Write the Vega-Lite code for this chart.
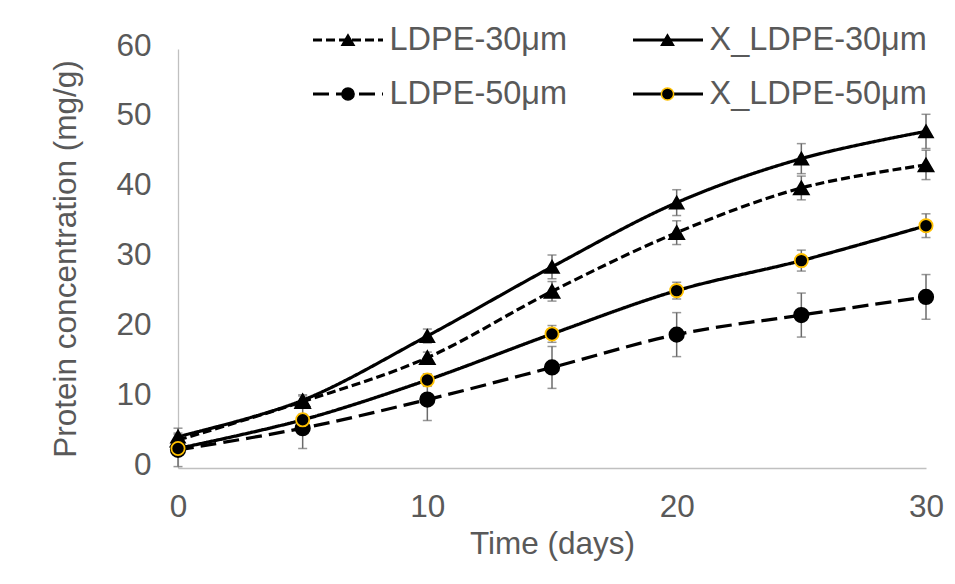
{
  "$schema": "https://vega.github.io/schema/vega-lite/v6.json",
  "width": 748,
  "height": 419,
  "autosize": {"type": "none"},
  "padding": {"left": 178, "top": 49, "right": 29, "bottom": 116},
  "background": "white",
  "config": {
    "view": {"stroke": null},
    "font": "Liberation Sans",
    "axis": {
      "labelFont": "Liberation Sans",
      "labelFontSize": 31.5,
      "labelColor": "#595959",
      "titleFont": "Liberation Sans",
      "titleFontSize": 31.5,
      "titleColor": "#595959",
      "titleFontWeight": "normal",
      "domainColor": "#c0c0c0",
      "domainWidth": 1.3,
      "ticks": false,
      "tickSize": 0,
      "grid": false
    }
  },
  "data": {
    "values": [
      {"day": 0, "series": "LDPE-30μm", "marker": "LDPE-30μm", "value": 4.0, "lo": 3.2, "hi": 4.8},
      {"day": 5, "series": "LDPE-30μm", "marker": "LDPE-30μm", "value": 9.5, "lo": 8.7, "hi": 10.3},
      {"day": 10, "series": "LDPE-30μm", "marker": "LDPE-30μm", "value": 15.8, "lo": 15.0, "hi": 16.6},
      {"day": 15, "series": "LDPE-30μm", "marker": "LDPE-30μm", "value": 25.3, "lo": 23.9, "hi": 26.7},
      {"day": 20, "series": "LDPE-30μm", "marker": "LDPE-30μm", "value": 33.7, "lo": 32.0, "hi": 35.4},
      {"day": 25, "series": "LDPE-30μm", "marker": "LDPE-30μm", "value": 40.1, "lo": 38.4, "hi": 41.8},
      {"day": 30, "series": "LDPE-30μm", "marker": "LDPE-30μm", "value": 43.4, "lo": 41.3, "hi": 45.5},
      {"day": 0, "series": "X_LDPE-30μm", "marker": "X_LDPE-30μm", "value": 4.5, "lo": 3.3, "hi": 5.7},
      {"day": 5, "series": "X_LDPE-30μm", "marker": "X_LDPE-30μm", "value": 9.7, "lo": 8.9, "hi": 10.5},
      {"day": 10, "series": "X_LDPE-30μm", "marker": "X_LDPE-30μm", "value": 18.9, "lo": 17.9, "hi": 19.9},
      {"day": 15, "series": "X_LDPE-30μm", "marker": "X_LDPE-30μm", "value": 28.8, "lo": 27.1, "hi": 30.5},
      {"day": 20, "series": "X_LDPE-30μm", "marker": "X_LDPE-30μm", "value": 38.0, "lo": 36.15, "hi": 39.85},
      {"day": 25, "series": "X_LDPE-30μm", "marker": "X_LDPE-30μm", "value": 44.3, "lo": 42.15, "hi": 46.45},
      {"day": 30, "series": "X_LDPE-30μm", "marker": "X_LDPE-30μm", "value": 48.2, "lo": 45.75, "hi": 50.65},
      {"day": 0, "series": "LDPE-50μm", "marker": "LDPE-50μm", "value": 2.6, "lo": 0.2, "hi": 5.0},
      {"day": 5, "series": "LDPE-50μm", "marker": "LDPE-50μm", "value": 5.7, "lo": 2.8, "hi": 8.6},
      {"day": 10, "series": "LDPE-50μm", "marker": "LDPE-50μm", "value": 9.8, "lo": 6.8, "hi": 12.8},
      {"day": 15, "series": "LDPE-50μm", "marker": "LDPE-50μm", "value": 14.4, "lo": 11.4, "hi": 17.4},
      {"day": 20, "series": "LDPE-50μm", "marker": "LDPE-50μm", "value": 19.1, "lo": 15.95, "hi": 22.25},
      {"day": 25, "series": "LDPE-50μm", "marker": "LDPE-50μm", "value": 21.9, "lo": 18.75, "hi": 25.05},
      {"day": 30, "series": "LDPE-50μm", "marker": "LDPE-50μm", "value": 24.5, "lo": 21.3, "hi": 27.7},
      {"day": 0, "series": "X_LDPE-50μm", "marker": "X_LDPE-50μm", "value": 2.8, "lo": 2.2, "hi": 3.4},
      {"day": 5, "series": "X_LDPE-50μm", "marker": "X_LDPE-50μm", "value": 6.9, "lo": 6.1, "hi": 7.7},
      {"day": 10, "series": "X_LDPE-50μm", "marker": "X_LDPE-50μm", "value": 12.6, "lo": 11.7, "hi": 13.5},
      {"day": 15, "series": "X_LDPE-50μm", "marker": "X_LDPE-50μm", "value": 19.2, "lo": 18.0, "hi": 20.4},
      {"day": 20, "series": "X_LDPE-50μm", "marker": "X_LDPE-50μm", "value": 25.4, "lo": 24.2, "hi": 26.6},
      {"day": 25, "series": "X_LDPE-50μm", "marker": "X_LDPE-50μm", "value": 29.7, "lo": 28.2, "hi": 31.2},
      {"day": 30, "series": "X_LDPE-50μm", "marker": "X_LDPE-50μm", "value": 34.7, "lo": 33.0, "hi": 36.4}
    ]
  },
  "encoding": {
    "x": {
      "field": "day",
      "type": "quantitative",
      "scale": {"domain": [0, 30], "nice": false, "zero": false},
      "axis": {
        "values": [0, 10, 20, 30],
        "title": "Time (days)",
        "labelPadding": 23,
        "titlePadding": 6,
        "labelFlush": false
      }
    }
  },
  "layer": [
    {
      "mark": {"type": "line", "interpolate": "cardinal", "tension": 0, "color": "black"},
      "encoding": {
        "y": {
          "field": "value",
          "type": "quantitative",
          "scale": {"domain": [0, 60], "nice": false},
          "axis": {
            "values": [0, 10, 20, 30, 40, 50, 60],
            "title": "Protein concentration (mg/g)",
            "labelPadding": 27,
            "labelOffset": -3,
            "titlePadding": 33,
            "labelFlush": false
          }
        },
        "strokeDash": {
          "field": "series",
          "type": "nominal",
          "scale": {
            "range": [[9, 4], [16, 7], [1, 0], [1, 0]]
          },
          "legend": {
            "orient": "none",
            "legendX": 133.5,
            "legendY": -29,
            "columns": 2,
            "direction": "vertical",
            "gridAlign": "each",
            "title": null,
            "symbolType": "stroke",
            "symbolSize": 4900,
            "symbolStrokeWidth": 3,
            "symbolStrokeColor": "black",
            "labelFont": "Liberation Sans",
            "labelFontSize": 32.5,
            "labelColor": "#595959",
            "labelOffset": 5,
            "labelLimit": 400,
            "columnPadding": 64,
            "rowPadding": 14,
            "clipHeight": 40,
            "padding": 0,
            "zindex": 1
          }
        },
        "strokeWidth": {
          "field": "series",
          "type": "nominal",
          "scale": {
            "domain": ["LDPE-30μm", "X_LDPE-30μm", "LDPE-50μm", "X_LDPE-50μm"],
            "range": [3.2, 3.3, 4.8, 3.3]
          },
          "legend": null
        }
      }
    },
    {
      "mark": {"type": "rule", "color": "#6b6b6b", "strokeWidth": 1.5},
      "encoding": {
        "y": {"field": "lo", "type": "quantitative"},
        "y2": {"field": "hi"}
      }
    },
    {
      "mark": {"type": "tick", "orient": "horizontal", "color": "#6b6b6b", "thickness": 1.5, "size": 9},
      "encoding": {"y": {"field": "lo", "type": "quantitative"}}
    },
    {
      "mark": {"type": "tick", "orient": "horizontal", "color": "#6b6b6b", "thickness": 1.5, "size": 9},
      "encoding": {"y": {"field": "hi", "type": "quantitative"}}
    },
    {
      "mark": {"type": "point", "filled": true, "fill": "black", "opacity": 1, "strokeWidth": 1.8, "strokeOpacity": 1},
      "encoding": {
        "y": {"field": "value", "type": "quantitative"},
        "shape": {
          "field": "marker",
          "type": "nominal",
          "scale": {
            "domain": ["LDPE-30μm", "LDPE-50μm", "X_LDPE-30μm", "X_LDPE-50μm"],
            "range": ["triangle-up", "circle", "triangle-up", "circle"]
          },
          "legend": {
            "orient": "none",
            "legendX": 133.5,
            "legendY": -29,
            "columns": 2,
            "direction": "vertical",
            "gridAlign": "each",
            "title": null,
            "symbolSize": 150,
            "symbolOffset": 20.25,
            "symbolStrokeWidth": 1.5,
            "symbolFillColor": "black",
            "symbolOpacity": 1,
            "labelExpr": "''",
            "labelFont": "Liberation Sans",
            "labelFontSize": 32.5,
            "labelOffset": 5,
            "columnPadding": 261.5,
            "rowPadding": 14,
            "clipHeight": 40,
            "padding": 0,
            "zindex": 2
          }
        },
        "stroke": {
          "field": "marker",
          "type": "nominal",
          "scale": {
            "domain": ["LDPE-30μm", "LDPE-50μm", "X_LDPE-30μm", "X_LDPE-50μm"],
            "range": ["black", "black", "black", "#FFC000"]
          }
        },
        "size": {
          "field": "marker",
          "type": "nominal",
          "scale": {
            "domain": ["X_LDPE-50μm", "X_LDPE-30μm", "LDPE-50μm", "LDPE-30μm"],
            "range": [175, 225, 175, 225]
          },
          "legend": null
        }
      }
    }
  ]
}
